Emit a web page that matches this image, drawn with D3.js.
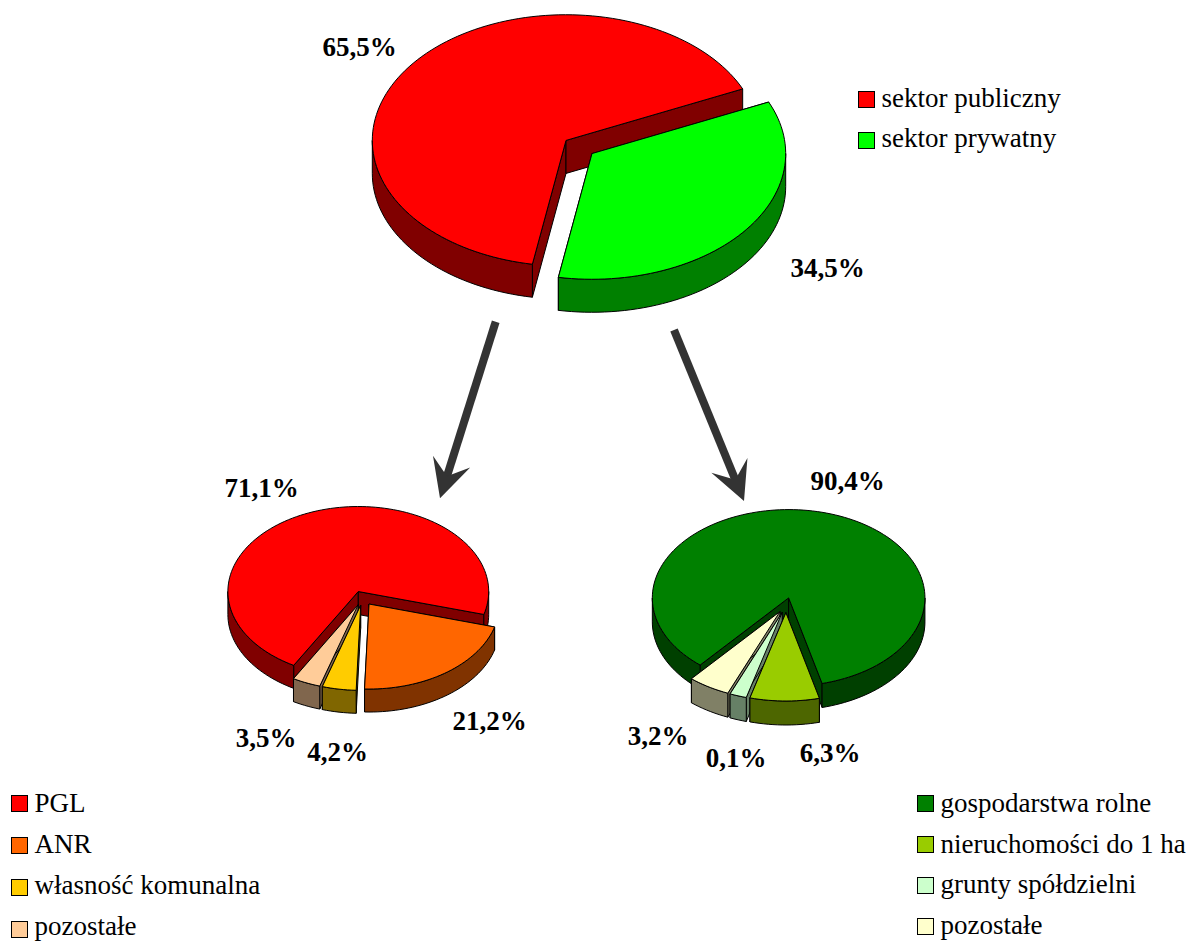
<!DOCTYPE html>
<html lang="pl">
<head>
<meta charset="utf-8">
<title>Struktura własności</title>
<script src="https://cdnjs.cloudflare.com/ajax/libs/d3/7.8.5/d3.min.js"></script>
<style>
  body { margin: 0; background: #fff; }
  text { font-family: "Liberation Serif", serif; fill: #000; }
</style>
</head>
<body>
<script>
var w = 1188, h = 941;

var sectorNames = ['sektor publiczny', 'sektor prywatny'];
var sectorValues = [65.5, 34.5];
var sectorLabels = ['65,5%', '34,5%'];
var sectorColors = ['#ff0000', '#00ff00'];

var publicNames = ['PGL', 'ANR', 'własność komunalna', 'pozostałe'];
var publicValues = [71.1, 21.2, 4.2, 3.5];
var publicLabels = ['71,1%', '21,2%', '4,2%', '3,5%'];
var publicColors = ['#ff0000', '#ff6600', '#ffcc00', '#ffcc99'];

var privateNames = ['gospodarstwa rolne', 'nieruchomości do 1 ha', 'grunty spółdzielni', 'pozostałe'];
// slice sizes as drawn in the picture, the printed labels do not quite agree with them
var privateValues = [84.8, 8.2, 2.0, 5.0];
var privateLabels = ['90,4%', '6,3%', '0,1%', '3,2%'];
var privateColors = ['#008000', '#99cc00', '#ccffcc', '#ffffcc'];

var svg = d3.select('body').append('svg')
    .attr('width', w)
    .attr('height', h)
    .style('display', 'block');

var rad = Math.PI / 180;
var explode = 0.085;

function half(c) {
    var r = d3.rgb(c);
    return d3.rgb(r.r / 2, r.g / 2, r.b / 2).formatHex();
}

function drawPie(o) {
    var x = d3.scaleLinear().domain([-1, 1]).range([o.cx - o.rx, o.cx + o.rx]);
    var y = d3.scaleLinear().domain([-1, 1]).range([o.cy - o.ry, o.cy + o.ry]);
    var line = d3.line().x(function(p) { return x(p[0]); }).y(function(p) { return y(p[1]) + (p[2] || 0); });

    var pie = d3.pie().sort(null)
        .startAngle(o.start * rad)
        .endAngle(o.start * rad + 2 * Math.PI);

    var slices = pie(o.values).map(function(d, i) {
        var mid = (d.startAngle + d.endAngle) / 2;
        d.color = o.colors[i];
        d.ox = explode * Math.sin(mid);
        d.oy = -explode * Math.cos(mid);
        return d;
    });
    // back to front
    slices.sort(function(a, b) { return a.oy - b.oy; });

    var g = svg.append('g');

    function face(d, pts, fill) {
        g.append('path')
            .attr('d', line(pts) + 'Z')
            .attr('fill', fill)
            .attr('stroke', '#000')
            .attr('stroke-width', 1)
            .attr('stroke-linejoin', 'round');
    }

    function rim(d, t, dz) {
        return [d.ox + Math.sin(t), d.oy - Math.cos(t), dz || 0];
    }

    function arcPts(d, a0, a1, dz) {
        var n = Math.max(2, Math.ceil((a1 - a0) / (rad * 2)));
        return d3.range(n + 1).map(function(k) {
            return rim(d, a0 + (a1 - a0) * k / n, dz);
        });
    }

    slices.forEach(function(d) {
        var dark = half(d.color);
        var apex = [d.ox, d.oy, 0], apexLow = [d.ox, d.oy, o.depth];

        [d.startAngle, d.endAngle].forEach(function(t) {
            face(d, [apex, rim(d, t), rim(d, t, o.depth), apexLow], dark);
        });

        // outer wall, only the part facing the viewer
        [-360, 0, 360].forEach(function(shift) {
            var a0 = Math.max(d.startAngle, (90 + shift) * rad);
            var a1 = Math.min(d.endAngle, (270 + shift) * rad);
            if (a1 <= a0) return;
            face(d, arcPts(d, a0, a1, 0).concat(arcPts(d, a0, a1, o.depth).reverse()), dark);
        });

        face(d, [apex].concat(arcPts(d, d.startAngle, d.endAngle, 0)), d.color);
    });

    o.labelPos.forEach(function(p, i) {
        svg.append('text')
            .attr('x', p[0])
            .attr('y', p[1])
            .attr('text-anchor', 'middle')
            .style('font-size', '27px')
            .style('font-weight', 'bold')
            .text(o.labels[i]);
    });
}

function drawLegend(names, colors, boxX, boxTop, boxBottom, textTop, textBottom) {
    var boxPos = d3.scaleLinear().domain([0, names.length - 1]).range([boxTop, boxBottom]);
    var textPos = d3.scaleLinear().domain([0, names.length - 1]).range([textTop, textBottom]);
    names.forEach(function(name, i) {
        svg.append('rect')
            .attr('x', boxX + 0.5)
            .attr('y', boxPos(i) + 0.5)
            .attr('width', 16)
            .attr('height', 16)
            .attr('fill', colors[i])
            .attr('stroke', '#000')
            .attr('stroke-width', 1);
        svg.append('text')
            .attr('x', boxX + 23.5)
            .attr('y', textPos(i))
            .style('font-size', '27px')
            .text(name);
    });
}

function drawArrow(x1, y1, x2, y2) {
    var len = Math.hypot(x2 - x1, y2 - y1);
    var ux = (x2 - x1) / len, uy = (y2 - y1) / len;
    var nx = -uy, ny = ux;
    function at(along, side) {
        return [x2 - ux * along + nx * side, y2 - uy * along + ny * side];
    }
    svg.append('line')
        .attr('x1', x1).attr('y1', y1)
        .attr('x2', at(20, 0)[0]).attr('y2', at(20, 0)[1])
        .attr('stroke', '#333')
        .attr('stroke-width', 8);
    svg.append('path')
        .attr('d', d3.line()([at(0, 0), at(38.5, 19.5), at(23, 0), at(38.5, -19.5)]) + 'Z')
        .attr('fill', '#333');
}

drawPie({
    cx: 579, cy: 147, rx: 193.7, ry: 125.7, depth: 33, start: 190,
    values: sectorValues, colors: sectorColors, labels: sectorLabels,
    labelPos: [[359.5, 56], [827.5, 277]]
});

drawPie({
    cx: 362.5, cy: 598.2, rx: 130.4, ry: 85, depth: 23, start: 209.7,
    values: publicValues, colors: publicColors, labels: publicLabels,
    labelPos: [[261.5, 497], [489.5, 730], [337.5, 761], [266, 747]]
});

drawPie({
    cx: 786, cy: 605.2, rx: 136.3, ry: 88.3, depth: 24, start: 220.5,
    values: privateValues, colors: privateColors, labels: privateLabels,
    labelPos: [[847.5, 490], [830, 762], [736, 767], [658, 745]]
});

drawArrow(495.7, 321.7, 440, 498.3);
drawArrow(674, 330, 744, 501);

drawLegend(sectorNames, sectorColors, 858, 91, 132, 107, 147);
drawLegend(publicNames, publicColors, 11, 795, 921, 812, 935);
drawLegend(privateNames, privateColors, 917, 795, 918, 812, 934);
</script>
</body>
</html>
